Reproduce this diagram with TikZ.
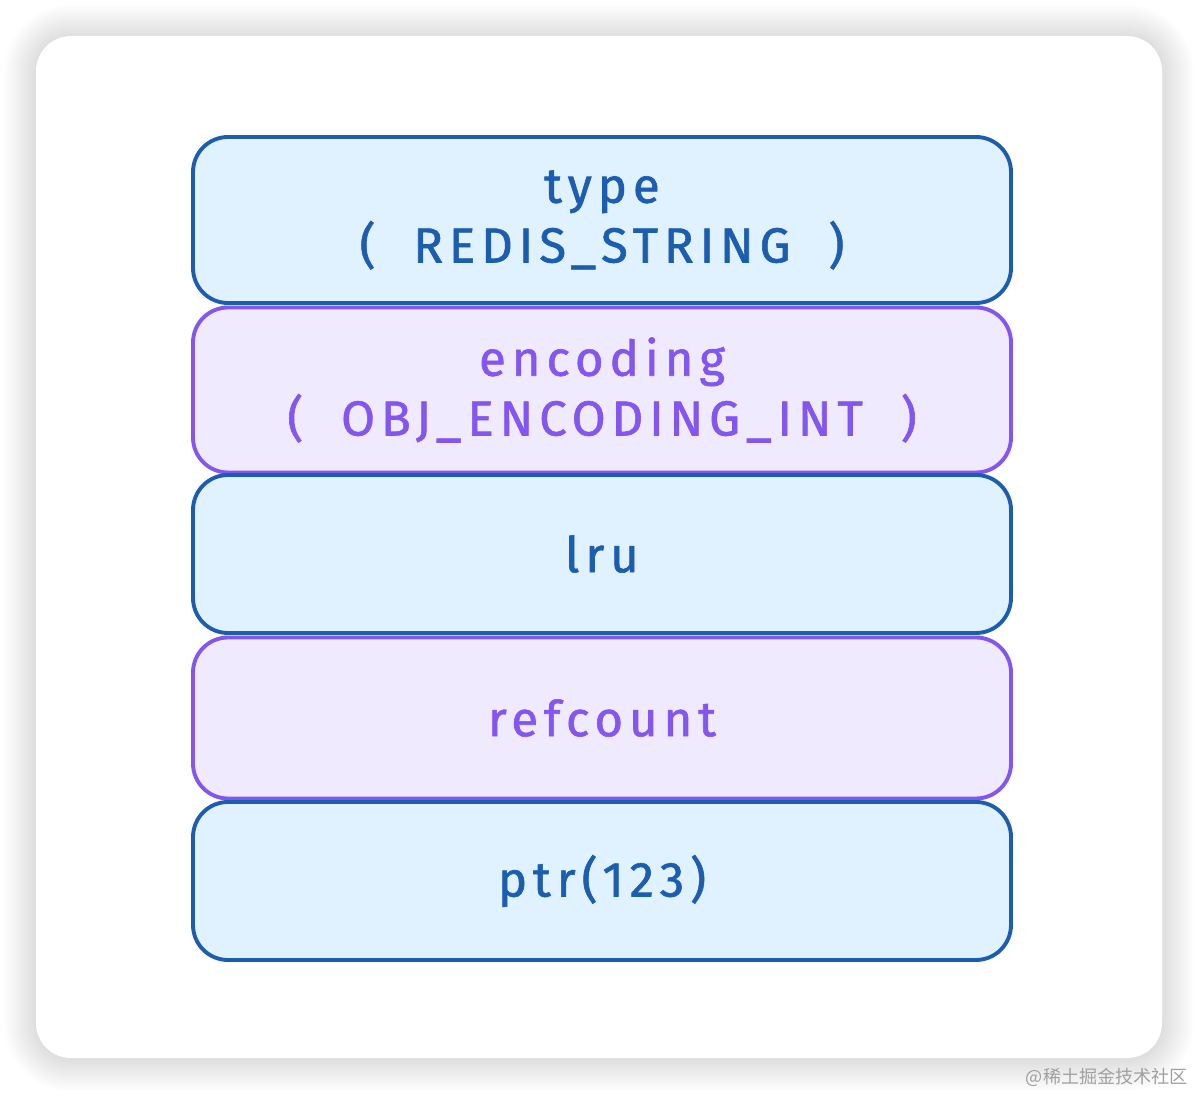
\documentclass[tikz,border=0pt]{standalone}
\usepackage{fontspec}
\newfontfamily\handfont[LetterSpace=12, FakeBold=1.2]{Fira Sans}
\newfontfamily\cjk{Noto Sans CJK SC}
\usepackage{tikz}

\definecolor{blueline}{HTML}{1C5DB0}
\definecolor{bluefill}{HTML}{E0F1FF}
\definecolor{purpleline}{HTML}{8456F0}
\definecolor{purplefill}{HTML}{F0EAFF}
\definecolor{marktext}{HTML}{A0A0A0}

\newcommand{\pu}{0.02cm}

\tikzset{
  field/.style={draw, rounded corners=35*\pu, line width=2.2pt,
    minimum width=818*\pu, align=center,
    font=\handfont\fontsize{28}{34}\selectfont},
  bluefield/.style={field, draw=blueline, fill=bluefill, text=blueline},
  purplefield/.style={field, draw=purpleline, fill=purplefill, text=purpleline}
}

\begin{document}
\begin{tikzpicture}[x=\pu, y=-\pu]

    \useasboundingbox (0, 0) rectangle (1198, 1094);
    \fill [white] (0, 0) rectangle (1198, 1094);

    % soft shadow round the card
    \foreach \s in {1, ..., 16} {
      \fill [black, opacity=0.009, rounded corners=35*\pu+\s*2*\pu]
        (36-2*\s, 37-2*\s) rectangle (1162+2*\s, 1059+2*\s);
    }
    \fill [white, rounded corners=35*\pu] (36, 36) rectangle (1162, 1058);

    \node [bluefield, minimum height=166*\pu] (type) at (602, 220)
      {type\\(\ \ REDIS\_STRING\ \ )};
    \node [purplefield, minimum height=165*\pu] (encoding) at (602, 390)
      {encoding\\(\ \ OBJ\_ENCODING\_INT\ \ )};
    \node [bluefield, minimum height=158*\pu] (lru) at (602, 554) {lru};
    \node [purplefield, minimum height=161*\pu] (refcount) at (602, 718) {refcount};
    \node [bluefield, minimum height=158*\pu] (ptr) at (602, 881) {ptr(123)};

    \node [anchor=east, text=marktext, font=\cjk\fontsize{10.3}{12}\selectfont]
      (mark) at (1194, 1077) {@稀土掘金技术社区};

\end{tikzpicture}
\end{document}
